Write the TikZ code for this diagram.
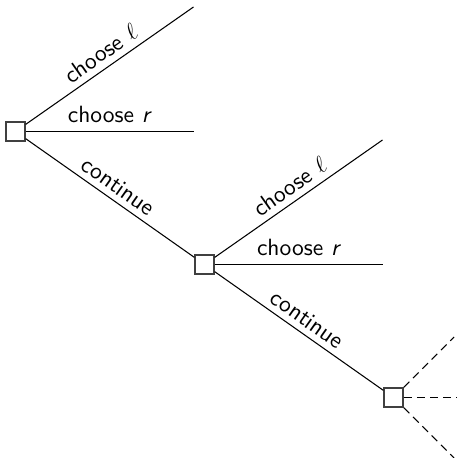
\documentclass[tikz,border=0pt]{standalone}
\usepackage{tikz}
\usetikzlibrary{calc}
\begin{document}
\begin{tikzpicture}[x=0.4255pt,y=-0.4255pt,
  font=\sffamily,
  state/.style={draw=black!75,line width=0.55pt,fill=white,minimum size=8.1pt,inner sep=0pt},
  branch/.style={line width=0.45pt},
  later/.style={line width=0.45pt,dash pattern=on 3.4pt off 2.2pt},
  lab/.style={sloped,above,inner sep=2.6pt}]
\useasboundingbox (0,0) rectangle (457,458);

% decision points
\node[state] (A) at (15.5,131.5) {};
\node[state] (B) at (204.5,264.5) {};
\node[state] (C) at (393.5,397.5) {};

% loose ends of the stopping branches
\coordinate (Al) at ($(A)+(178,-124.5)$);
\coordinate (Ar) at ($(A)+(178.5,0)$);
\coordinate (Bl) at ($(B)+(178,-124.5)$);
\coordinate (Br) at ($(B)+(178.8,0)$);
\coordinate (Cu) at ($(C)+(60.5,-60.5)$);
\coordinate (Cm) at ($(C)+(63.2,0)$);
\coordinate (Cd) at ($(C)+(60.5,60.5)$);

% first stage
\draw[branch] (A) -- node[lab] {choose $\ell$} (Al);
\draw[branch] (A) -- node[above,inner sep=3.6pt] {choose \textit{r}} (Ar);
\draw[branch] (A) -- node[lab] {continue} (B);

% second stage
\draw[branch] (B) -- node[lab] {choose $\ell$} (Bl);
\draw[branch] (B) -- node[above,inner sep=3.6pt] {choose \textit{r}} (Br);
\draw[branch] (B) -- node[lab] {continue} (C);

% the tree goes on
\draw[later] (C) -- (Cu);
\draw[later] (C) -- (Cm);
\draw[later] (C) -- (Cd);
\end{tikzpicture}
\end{document}
